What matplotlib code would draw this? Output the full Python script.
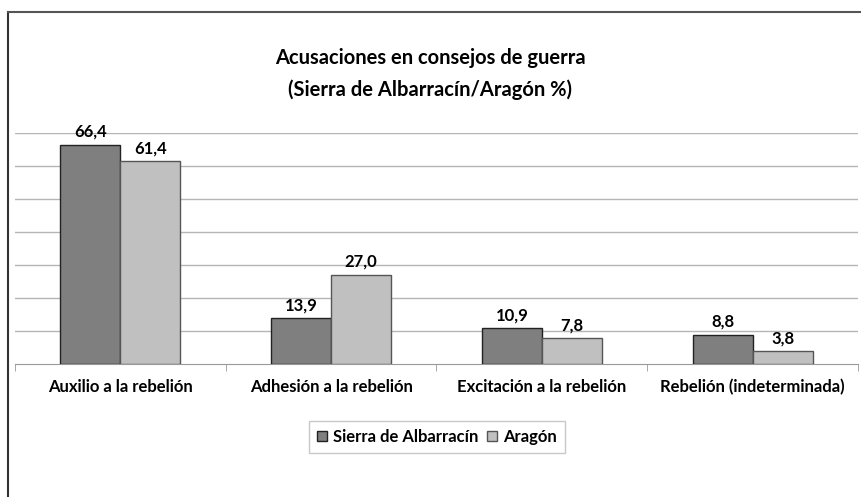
import numpy as np
import matplotlib.pyplot as plt
from matplotlib.lines import Line2D

plt.rcParams['font.family'] = ['Lato', 'DejaVu Sans']

# datos
categorias = ['Auxilio a la rebelión', 'Adhesión a la rebelión',
              'Excitación a la rebelión', 'Rebelión (indeterminada)']
sierra = [66.4, 13.9, 10.9, 8.8]
aragon = [61.4, 27.0, 7.8, 3.8]
series = ['Sierra de Albarracín', 'Aragón']

fig = plt.figure(figsize=(8.61, 4.97), dpi=100)

# marco exterior
fig.add_artist(Line2D([8 / 861, 8 / 861], [0, 1 - 12 / 497], color='#333333', lw=1.5))
fig.add_artist(Line2D([8 / 861, 1], [1 - 12 / 497, 1 - 12 / 497], color='#555555', lw=1.5))

ax = fig.add_axes([15 / 861, (497 - 364) / 497, 843 / 861, 231 / 497])

x = np.arange(len(categorias))
w = 0.285
b1 = ax.bar(x - w / 2, sierra, w, color='#7f7f7f', edgecolor='#222222', lw=1, zorder=3)
b2 = ax.bar(x + w / 2, aragon, w, color='#c0c0c0', edgecolor='#555555', lw=1, zorder=3)

for bars, vals in ((b1, sierra), (b2, aragon)):
    for r, v in zip(bars, vals):
        ax.text(r.get_x() + r.get_width() / 2, v + 1.5, f'{v:.1f}'.replace('.', ','),
                ha='center', va='bottom', fontsize=12, fontweight='bold')

ax.set_xlim(-0.5, 3.5)
ax.set_ylim(0, 70)
ax.set_yticks(np.arange(10, 71, 10))
ax.set_yticklabels([])
ax.tick_params(axis='y', length=0)
ax.grid(axis='y', color='#b5b5b5', lw=1, zorder=0)

ax.set_xticks(x)
ax.set_xticklabels(categorias, fontsize=12, fontweight='bold')
ax.tick_params(axis='x', length=0, pad=11)
ax.set_xticks(np.arange(-0.5, 4, 1), minor=True)
ax.tick_params(axis='x', which='minor', length=5, color='#999999')

for s in ['top', 'right', 'left']:
    ax.spines[s].set_visible(False)
ax.spines['bottom'].set_color('#999999')

fig.text(0.5, 1 - 58 / 497, 'Acusaciones en consejos de guerra', ha='center', va='center',
         fontsize=14.5, fontweight='bold')
fig.text(0.5, 1 - 90 / 497, '(Sierra de Albarracín/Aragón %)', ha='center', va='center',
         fontsize=14.5, fontweight='bold')

leg = fig.legend([b1, b2], series, loc='center', bbox_to_anchor=(437 / 861, 1 - 437 / 497),
                 ncol=2, frameon=True, fancybox=False, handlelength=0.6, handleheight=0.6,
                 handletextpad=0.35, columnspacing=0.5, borderpad=0.5,
                 prop={'size': 12, 'weight': 'bold'})
leg.get_frame().set_edgecolor('#bbbbbb')
leg.get_frame().set_linewidth(1)

fig.savefig('out.png', dpi=100)
